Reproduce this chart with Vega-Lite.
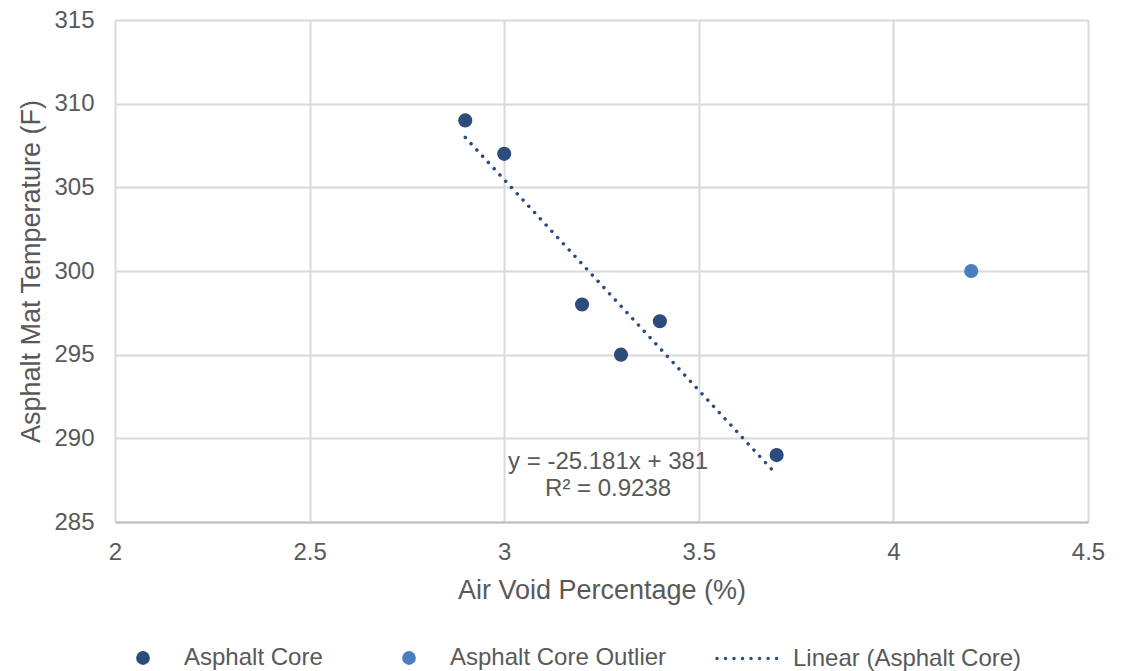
{
  "$schema": "https://vega.github.io/schema/vega-lite/v6.json",
  "width": 973,
  "height": 502,
  "autosize": "none",
  "padding": {"left": 115, "top": 20, "right": 44, "bottom": 149},
  "background": "white",
  "config": {
    "font": "Liberation Sans",
    "view": {"stroke": null},
    "axis": {
      "labelFont": "Liberation Sans",
      "titleFont": "Liberation Sans",
      "labelColor": "#595959",
      "titleColor": "#595959",
      "labelFontSize": 24,
      "titleFontSize": 27,
      "titleFontWeight": "normal",
      "gridColor": "#D9D9D9",
      "gridWidth": 2,
      "ticks": false,
      "labelFlush": false
    },
    "legend": {
      "labelFont": "Liberation Sans",
      "labelColor": "#595959",
      "labelFontSize": 24,
      "labelLimit": 500
    }
  },
  "datasets": {
    "pts": [
      {"air_void": 2.9, "temp": 309, "series": "Asphalt Core"},
      {"air_void": 3.0, "temp": 307, "series": "Asphalt Core"},
      {"air_void": 3.2, "temp": 298, "series": "Asphalt Core"},
      {"air_void": 3.3, "temp": 295, "series": "Asphalt Core"},
      {"air_void": 3.4, "temp": 297, "series": "Asphalt Core"},
      {"air_void": 3.7, "temp": 289, "series": "Asphalt Core"},
      {"air_void": 4.2, "temp": 300, "series": "Asphalt Core Outlier"}
    ],
    "trend": [
      {"air_void": 2.9, "temp": 307.98, "series": "Linear (Asphalt Core)"},
      {"air_void": 3.7, "temp": 287.83, "series": "Linear (Asphalt Core)"}
    ],
    "note": [
      {"air_void": 3.267, "temp": 288.58, "label": "y = -25.181x + 381\nR² = 0.9238"}
    ]
  },
  "layer": [
    {
      "data": {"name": "trend"},
      "mark": {"type": "line", "strokeWidth": 3.5, "strokeCap": "round", "color": "#2C4C7C"},
      "encoding": {
        "x": {"field": "air_void", "type": "quantitative", "scale": {"domain": [2, 4.5], "nice": false, "zero": false},
          "axis": {"title": "Air Void Percentage (%)", "values": [2, 2.5, 3, 3.5, 4, 4.5], "format": "~g", "labelPadding": 18, "titlePadding": 13, "domainColor": "#BFBFBF", "domainWidth": 2}},
        "y": {"field": "temp", "type": "quantitative", "scale": {"domain": [285, 315], "nice": false, "zero": false},
          "axis": {"title": "Asphalt Mat Temperature (F)", "values": [285, 290, 295, 300, 305, 310, 315], "format": "d", "labelPadding": 21, "titlePadding": 8, "domain": false}},
        "strokeDash": {"field": "series", "type": "nominal",
          "scale": {"domain": ["Linear (Asphalt Core)"], "range": [[0.01, 8.5]]},
          "legend": {"title": null, "orient": "none", "legendX": 600, "legendY": 604, "symbolSize": 4225, "symbolStrokeWidth": 3.5, "symbolStrokeColor": "#2C4C7C", "labelOffset": 9, "padding": 0,
            "encode": {"symbols": {"update": {"strokeCap": {"value": "round"}}}}}}
      }
    },
    {
      "data": {"name": "pts"},
      "mark": {"type": "circle", "size": 200, "opacity": 1},
      "encoding": {
        "x": {"field": "air_void", "type": "quantitative"},
        "y": {"field": "temp", "type": "quantitative"},
        "color": {"field": "series", "type": "nominal",
          "scale": {"domain": ["Asphalt Core", "Asphalt Core Outlier"], "range": ["#2C4C7C", "#4A7EBF"]},
          "legend": {"title": null, "orient": "none", "direction": "horizontal", "legendX": 16, "legendY": 626, "symbolSize": 190, "labelOffset": 29, "columnPadding": 74, "padding": 0, "symbolOpacity": 1}}
      }
    },
    {
      "data": {"name": "note"},
      "mark": {"type": "text", "fontSize": 24, "color": "#595959", "lineBreak": "\n", "lineHeight": 27, "align": "center", "baseline": "middle"},
      "encoding": {
        "x": {"field": "air_void", "type": "quantitative"},
        "y": {"field": "temp", "type": "quantitative"},
        "text": {"field": "label", "type": "nominal"}
      }
    }
  ]
}
